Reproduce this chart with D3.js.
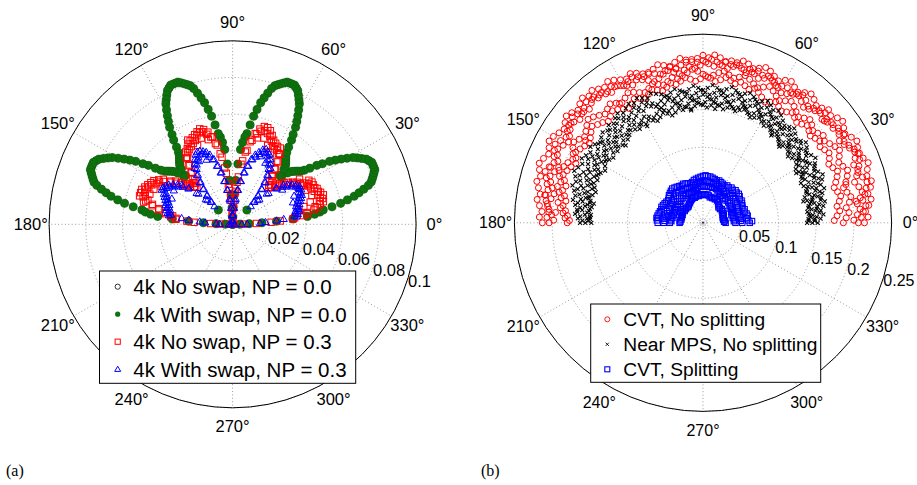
<!DOCTYPE html>
<html>
<head>
<meta charset="utf-8">
<script src="https://cdn.jsdelivr.net/npm/d3@7"></script>
<style>
body { margin: 0; background: #fff; }
svg { display: block; }
</style>
</head>
<body>
<svg id="chart" width="917" height="485"></svg>
<script>
// ---- sampling grids (degrees) ----
var deg1 = [0,1,2,3,4,5,6,7,8,9,10,11,12,13,14,15,16,17,18,19,20,21,22,23,24,25,26,27,28,29,
  30,31,32,33,34,35,36,37,38,39,40,41,42,43,44,45,46,47,48,49,50,51,52,53,54,55,56,57,58,59,
  60,61,62,63,64,65,66,67,68,69,70,71,72,73,74,75,76,77,78,79,80,81,82,83,84,85,86,87,88,89,
  90,91,92,93,94,95,96,97,98,99,100,101,102,103,104,105,106,107,108,109,110,111,112,113,114,115,116,117,118,119,
  120,121,122,123,124,125,126,127,128,129,130,131,132,133,134,135,136,137,138,139,140,141,142,143,144,145,146,147,148,149,
  150,151,152,153,154,155,156,157,158,159,160,161,162,163,164,165,166,167,168,169,170,171,172,173,174,175,176,177,178,179,180];
var deg2 = [0,2,4,6,8,10,12,14,16,18,20,22,24,26,28,30,32,34,36,38,40,42,44,46,48,50,52,54,56,58,
  60,62,64,66,68,70,72,74,76,78,80,82,84,86,88,90,92,94,96,98,100,102,104,106,108,110,112,114,116,118,
  120,122,124,126,128,130,132,134,136,138,140,142,144,146,148,150,152,154,156,158,160,162,164,166,168,170,172,174,176,178,180];
var deg2h = [1,3,5,7,9,11,13,15,17,19,21,23,25,27,29,31,33,35,37,39,41,43,45,47,49,51,53,55,57,59,
  61,63,65,67,69,71,73,75,77,79,81,83,85,87,89,91,93,95,97,99,101,103,105,107,109,111,113,115,117,119,
  121,123,125,127,129,131,133,135,137,139,141,143,145,147,149,151,153,155,157,159,161,163,165,167,169,171,173,175,177,179];
var deg3 = [0,3,6,9,12,15,18,21,24,27,30,33,36,39,42,45,48,51,54,57,60,63,66,69,72,75,78,81,84,87,
  90,93,96,99,102,105,108,111,114,117,120,123,126,129,132,135,138,141,144,147,150,153,156,159,162,165,168,171,174,177,180];

var angleTicks = [0,30,60,90,120,150,180,210,240,270,300,330];

// ---- panel (a) ----
var aRTicks = [0.02,0.04,0.06,0.08,0.1];
var aRLabels = ["0.02","0.04","0.06","0.08","0.1"];

// 4k With swap, NP = 0.0 (r on deg1)
var withSwap00 = [
  0,.004,.009,.016,.024,.033,.041,.045,.048,.050,
  .055,.060,.064,.068,.071,.074,.077,.079,.080,.081,
  .082,.083,.083,.083,.083,.082,.081,.079,.077,.075,
  .072,.069,.066,.063,.059,.056,.052,.049,.047,.046,
  .045,.044,.043,.041,.037,.011,
  .037,.041,.043,.044,.045,.046,.047,.049,.052,.056,
  .059,.063,.066,.069,.072,.075,.077,.079,.081,.082,
  .083,.083,.083,.083,.082,.081,.080,.079,.077,.074,
  .071,.068,.064,.060,.055,.050,.048,.045,.041,.033,
  .024,.016,.009,.004,0,
  .004,.009,.016,.024,.033,.041,.045,.048,.050,.055,
  .060,.064,.068,.071,.074,.077,.079,.080,.081,.082,
  .083,.083,.083,.083,.082,.081,.079,.077,.075,.072,
  .069,.066,.063,.059,.056,.052,.049,.047,.046,.045,
  .044,.043,.041,.037,.011,
  .037,.041,.043,.044,.045,.046,.047,.049,.052,.056,
  .059,.063,.066,.069,.072,.075,.077,.079,.081,.082,
  .083,.083,.083,.083,.082,.081,.080,.079,.077,.074,
  .071,.068,.064,.060,.055,.050,.048,.045,.041,.033,
  .024,.016,.009,.004,0];
// 4k No swap, NP = 0.0 coincides with the filled series
var noSwap00 = withSwap00;

// 4k No swap, NP = 0.3 (r on deg1)
var noSwap03 = [
  .001,.006,.013,.021,.026,.033,.034,.039,.041,.041,
  .045,.047,.046,.049,.051,.049,.051,.050,.052,.049,
  .051,.050,.048,.050,.049,.047,.049,.046,.047,.044,
  .045,.043,.041,.042,.040,.040,.037,.038,.035,.036,
  .033,.034,.031,.032,.029,.028,.030,.029,.032,.031,
  .034,.034,.038,.038,.042,.042,.046,.046,.049,.047,
  .049,.047,.050,.048,.051,.050,.053,.052,.055,.053,
  .056,.054,.056,.053,.054,.051,.051,.047,.046,.041,
  .040,.035,.033,.026,.023,.018,.017,.011,.009,.003,
  .001,.005,.007,.013,.015,.020,.022,.028,.031,.037,
  .039,.044,.045,.049,.049,.052,.051,.054,.053,.055,
  .053,.054,.052,.053,.050,.052,.049,.051,.048,.050,
  .047,.048,.046,.047,.044,.044,.040,.040,.036,.036,
  .032,.033,.030,.031,.028,.029,.029,.032,.031,.034,
  .033,.036,.035,.039,.038,.041,.041,.045,.044,.047,
  .046,.049,.047,.050,.049,.051,.050,.052,.051,.053,
  .051,.053,.050,.051,.048,.049,.045,.045,.041,.041,
  .037,.037,.033,.034,.031,.031,.025,.021,.012,.007,
  .001];
var noSwap03Extra = [[12,.037],[14,.040],[16,.044],[20,.046],[25,.044],[28,.049],[30,.048],[34,.044],
  [62,.044],[66,.047],[70,.050],[74,.049],[106,.048],[110,.050],[114,.047],[118,.052],
  [152,.044],[156,.047],[160,.048],[163,.053],[166,.050]];

// 4k With swap, NP = 0.3 (r on deg1)
var withSwap03 = [
  .001,.005,.008,.015,.018,.024,.028,.035,.034,.036,
  .035,.037,.035,.037,.036,.037,.036,.038,.037,.039,
  .038,.040,.039,.041,.040,.041,.040,.042,.041,.041,
  .042,.040,.041,.038,.039,.036,.037,.034,.035,.031,
  .031,.026,.025,.020,.019,.014,.017,.017,.021,.021,
  .025,.025,.029,.029,.033,.033,.037,.036,.039,.038,
  .041,.040,.043,.042,.044,.043,.045,.043,.044,.041,
  .042,.039,.040,.037,.037,.033,.033,.029,.029,.024,
  .024,.019,.019,.014,.013,.009,.009,.005,.005,.002,
  .001,.002,.005,.005,.009,.009,.013,.014,.019,.019,
  .024,.024,.029,.029,.033,.033,.037,.037,.040,.039,
  .042,.041,.043,.042,.044,.042,.044,.041,.043,.040,
  .041,.038,.039,.036,.037,.033,.033,.029,.029,.025,
  .025,.021,.021,.017,.017,.014,.019,.020,.025,.026,
  .031,.031,.035,.034,.037,.036,.039,.038,.041,.040,
  .042,.041,.043,.042,.043,.040,.041,.039,.040,.038,
  .039,.037,.038,.036,.038,.036,.037,.035,.037,.035,
  .036,.034,.035,.028,.024,.018,.015,.009,.007,.002,
  .001];
var withSwap03Extra = [[20,.035],[25,.037],[35,.033],[62,.038],[68,.040],[112,.038],[118,.039],[150,.037],[157,.036]];

// ---- panel (b) ----
var bRTicks = [0.05,0.1,0.15,0.2,0.25];
var bRLabels = ["0.05","0.1","0.15","0.2","0.25"];

// CVT, No splitting : five wandering strands
var cvtNoA = [.214,.219,.216,.221,.225,.222,.227,.230,.226,.229,
  .233,.229,.225,.228,.231,.227,.222,.225,.229,.226,
  .221,.224,.219,.216,.220,.223,.219,.214,.217,.221,
  .218,.213,.216,.220,.222,.218,.215,.219,.221,.217,
  .213,.216,.220,.223,.219,.222,.218,.214,.217,.220,
  .216,.212,.215,.218,.214,.210,.213,.217,.220,.216,
  .219,.223,.226,.222,.225,.229,.226,.230,.227,.223,
  .227,.230,.226,.222,.225,.229,.231,.227,.224,.228,
  .231,.228,.224,.227,.223,.219,.222,.218,.214,.217,
  .213]; // deg2
var cvtNoB = [.200,.205,.209,.206,.211,.215,.212,.208,.213,.217,
  .214,.219,.222,.218,.214,.211,.215,.219,.216,.212,
  .209,.213,.210,.206,.203,.207,.211,.208,.204,.201,
  .205,.209,.212,.208,.205,.209,.213,.210,.214,.211,
  .207,.210,.214,.217,.213,.209,.205,.208,.204,.200,
  .203,.207,.204,.200,.198,.202,.206,.209,.205,.208,
  .212,.215,.211,.214,.218,.221,.217,.213,.216,.220,
  .223,.219,.215,.211,.208,.212,.216,.213,.209,.205,
  .208,.212,.209,.205,.201,.204,.208,.205,.201,.198]; // deg2h
var cvtNoC = [.186,.190,.194,.191,.196,.199,.195,.192,.197,.201,
  .204,.200,.197,.201,.205,.202,.198,.194,.197,.193,
  .190,.194,.197,.193,.189,.192,.196,.199,.195,.191,
  .194,.198,.201,.197,.193,.196,.200,.203,.199,.196,
  .199,.203,.200,.196,.193,.197,.201,.204,.200,.197,
  .194,.197,.193,.190,.193,.196,.192,.189,.192,.196,
  .199,.195,.192,.196,.200,.197,.194,.198,.202,.205,
  .201,.197,.194,.198,.202,.199,.195,.192,.196,.199,
  .203,.200,.196,.199,.195,.191,.194,.190,.186,.183,
  .180]; // deg2
var cvtNoD = [.174,.178,.182,.179,.183,.186,.183,.180,.184,.188,
  .191,.187,.184,.188,.191,.188,.185,.189,.186,.183,
  .186,.189,.185,.182,.185,.188,.184,.181,.184,.187,
  .183,.180,.184,.188,.191,.187,.190,.193,.189,.192,
  .195,.191,.188,.192,.195,.191,.188,.191,.194,.190,
  .187,.190,.186,.183,.186,.189,.185,.182,.185,.188,
  .184,.181,.184,.188,.191,.187,.184,.188,.191,.195,
  .191,.187,.184,.187,.190,.193,.189,.186,.190,.193,
  .196,.192,.188,.191,.187,.184,.187,.183,.180,.177]; // deg2h
var cvtNoE = [.206,.210,.213,.217,.214,.218,.221,.224,.220,.216,
  .220,.224,.227,.223,.219,.216,.220,.217,.213,.216,
  .214,.218,.214,.211,.208,.212,.215,.211,.208,.211,
  .209,.206,.210,.213,.211,.214,.210,.207,.211,.214,
  .218,.215,.211,.208,.211,.215,.213,.217,.214,.211,
  .208,.211,.208,.205,.208,.212,.209,.212,.215,.212,
  .210,.214,.218,.215,.219,.216,.220,.223,.219,.216,
  .213,.217,.220,.217,.214,.218,.222,.219,.216,.213,
  .217,.220,.216,.213,.210,.213,.210,.207,.205,.207,
  .204]; // deg2
var cvtNoExtra = [[176,.196],[170,.212],[160,.215],[15,.196],[8,.205],[40,.210],[100,.207],[125,.193],[145,.19]];

// Near MPS, No splitting : five wandering strands
var mpsA = [.152,.156,.160,.157,.161,.164,.160,.163,.167,.164,
  .168,.171,.167,.164,.168,.172,.169,.166,.170,.173,
  .169,.166,.170,.174,.171,.168,.172,.176,.179,.176,
  .180,.183,.179,.176,.180,.183,.180,.177,.181,.184,
  .180,.177,.180,.183,.179,.176,.179,.182,.178,.175,
  .178,.181,.178,.175,.179,.182,.185,.181,.184,.187,
  .183,.186,.183,.180,.184,.181,.177,.180,.176,.179,
  .176,.173,.177,.180,.176,.179,.182,.178,.181,.184,
  .180,.177,.180,.176,.173,.175,.171,.168,.170,.166,
  .163]; // deg2
var mpsB = [.148,.151,.155,.152,.156,.159,.156,.160,.157,.161,
  .164,.160,.163,.166,.162,.159,.163,.166,.163,.167,
  .164,.161,.165,.168,.165,.162,.166,.170,.167,.172,
  .175,.171,.174,.177,.174,.171,.175,.178,.174,.171,
  .174,.177,.173,.170,.173,.176,.172,.169,.173,.176,
  .172,.169,.172,.175,.171,.168,.172,.176,.179,.175,
  .178,.174,.171,.175,.178,.174,.171,.174,.170,.167,
  .171,.174,.170,.167,.171,.174,.171,.168,.172,.175,
  .172,.169,.172,.168,.165,.168,.164,.167,.163,.160]; // deg2h
var mpsC = [.145,.148,.146,.150,.153,.150,.148,.152,.155,.152,
  .156,.159,.155,.152,.156,.159,.156,.153,.157,.160,
  .157,.154,.158,.161,.158,.162,.165,.162,.166,.169,
  .166,.163,.167,.170,.167,.164,.168,.171,.167,.164,
  .168,.171,.167,.164,.167,.170,.166,.163,.166,.169,
  .165,.162,.166,.169,.165,.162,.166,.169,.172,.168,
  .171,.167,.164,.168,.171,.167,.164,.167,.163,.160,
  .163,.166,.162,.159,.163,.166,.163,.160,.164,.167,
  .164,.161,.165,.162,.159,.162,.158,.161,.157,.154,
  .156]; // deg2
var mpsD = [.140,.143,.141,.145,.142,.146,.149,.146,.143,.147,
  .150,.147,.144,.148,.151,.148,.152,.155,.151,.148,
  .152,.155,.151,.148,.152,.156,.153,.157,.160,.157,
  .161,.164,.160,.157,.161,.164,.160,.157,.161,.163,
  .160,.157,.161,.164,.160,.157,.160,.163,.159,.156,
  .159,.162,.158,.155,.158,.161,.157,.154,.158,.161,
  .158,.155,.159,.162,.158,.155,.158,.161,.157,.154,
  .157,.160,.156,.153,.157,.160,.156,.153,.157,.160,
  .157,.154,.158,.155,.152,.155,.151,.154,.150,.152]; // deg2h
var mpsE = [.138,.140,.142,.139,.141,.144,.141,.139,.143,.145,
  .142,.140,.144,.147,.144,.142,.146,.149,.146,.143,
  .147,.150,.147,.145,.149,.152,.149,.152,.155,.152,
  .155,.158,.155,.153,.157,.160,.157,.154,.158,.156,
  .153,.157,.160,.156,.153,.156,.159,.155,.152,.155,
  .152,.155,.151,.148,.152,.155,.151,.148,.151,.154,
  .151,.154,.150,.153,.156,.152,.149,.152,.148,.151,
  .148,.151,.147,.150,.153,.150,.147,.151,.154,.151,
  .154,.151,.148,.151,.155,.152,.149,.152,.149,.150,
  .148]; // deg2
var mpsExtra = [[45,.143],[52,.147],[120,.148],[135,.145],[28,.140],[12,.136],[170,.147],[96,.150],[84,.152]];

// CVT, Splitting : four strands on deg3
var cvtSplitA = [.062,.060,.058,.060,.059,.057,.058,.056,.057,.058,
  .059,.058,.060,.061,.060,.061,.059,.060,.058,.059,
  .057,.058,.059,.060,.059,.060,.061,.062,.062,.063,
  .062,.061,.060,.059,.058,.056,.055,.056,.057,.058,
  .057,.058,.059,.060,.061,.060,.059,.058,.056,.055,
  .056,.057,.058,.059,.058,.059,.060,.061,.060,.061,
  .060];
var cvtSplitB = [.052,.050,.051,.049,.050,.048,.050,.049,.051,.050,
  .052,.051,.053,.052,.053,.051,.052,.050,.051,.050,
  .052,.051,.053,.052,.054,.053,.055,.054,.056,.055,
  .056,.055,.054,.052,.051,.049,.050,.049,.051,.050,
  .052,.051,.053,.052,.053,.051,.052,.050,.051,.049,
  .050,.048,.049,.048,.050,.049,.051,.050,.052,.051,
  .052];
var cvtSplitC = [.043,.041,.042,.040,.041,.039,.041,.040,.042,.041,
  .043,.042,.044,.043,.044,.042,.043,.042,.044,.043,
  .045,.046,.047,.048,.049,.048,.049,.048,.049,.048,
  .049,.048,.049,.047,.046,.045,.044,.043,.044,.043,
  .044,.043,.044,.042,.043,.041,.042,.040,.041,.040,
  .041,.040,.041,.040,.041,.040,.042,.041,.043,.042,
  .044];
var cvtSplitD = [.030,.028,.029,.027,.028,.027,.029,.028,.030,.029,
  .031,.030,.031,.029,.030,.029,.031,.032,.034,.035,
  .036,.035,.036,.035,.036,.035,.037,.038,.037,.038,
  .037,.038,.037,.036,.037,.036,.035,.036,.035,.034,
  .033,.032,.031,.030,.029,.029,.030,.029,.030,.029,
  .031,.030,.031,.029,.030,.029,.030,.029,.031,.030,
  .031];
var cvtSplitExtra = [[2,.065],[174,.062],[170,.047]];

var legendA = ["4k No swap, NP = 0.0","4k With swap, NP = 0.0","4k No swap, NP = 0.3","4k With swap, NP = 0.3"];
var legendB = ["CVT, No splitting","Near MPS, No splitting","CVT, Splitting"];

// ---------------------------------------------------------------
var svg = d3.select("#chart");
var FONT = '"Liberation Sans", Arial, Helvetica, sans-serif';
var RAD = Math.PI / 180;

function pairs(th, rs) {
    return rs.map(function (v, i) { return { t: th[i], r: v }; });
}
function pairsXY(list) {
    return list.map(function (d) { return { t: d[0], r: d[1] }; });
}

function panel(p) {
    var g = svg.append("g");
    var r = d3.scaleLinear().domain([0, p.rmax]).range([0, p.R]);
    var pos = function (t, v) {
        return [p.cx + r(v) * Math.cos(t * RAD), p.cy - r(v) * Math.sin(t * RAD)];
    };

    g.append("circle").attr("cx", p.cx).attr("cy", p.cy).attr("r", p.R).attr("fill", "#fff");

    // dotted rings
    g.selectAll(".ring")
        .data(p.rticks)
        .enter().append("circle")
        .attr("class", "ring")
        .attr("cx", p.cx).attr("cy", p.cy)
        .attr("r", function (d) { return r(d); })
        .attr("fill", "none")
        .attr("stroke", "#9a9a9a")
        .attr("stroke-dasharray", "1,2.4");

    // dotted spokes
    g.selectAll(".spoke")
        .data(angleTicks.slice(0, 6))
        .enter().append("line")
        .attr("class", "spoke")
        .attr("x1", function (d) { return pos(d, p.rmax)[0]; })
        .attr("y1", function (d) { return pos(d, p.rmax)[1]; })
        .attr("x2", function (d) { return pos(d + 180, p.rmax)[0]; })
        .attr("y2", function (d) { return pos(d + 180, p.rmax)[1]; })
        .attr("stroke", "#9a9a9a")
        .attr("stroke-dasharray", "1,2.4");

    // outer circle
    g.append("circle")
        .attr("cx", p.cx).attr("cy", p.cy).attr("r", p.R)
        .attr("fill", "none").attr("stroke", "#000").attr("stroke-width", 1);

    // angle labels
    g.selectAll(".alab")
        .data(angleTicks)
        .enter().append("text")
        .attr("x", function (d) { return pos(d, p.rmax * 1.1)[0]; })
        .attr("y", function (d) { return pos(d, p.rmax * 1.1)[1]; })
        .attr("text-anchor", "middle")
        .attr("dominant-baseline", "central")
        .style("font-family", FONT)
        .style("font-size", p.fs + "px")
        .text(function (d) { return d + "\u00b0"; });

    // radial labels
    g.selectAll(".rlab")
        .data(p.rticks)
        .enter().append("text")
        .attr("x", function (d) { return p.cx + r(d) * Math.cos(17 * RAD); })
        .attr("y", function (d) { return p.cy + r(d) * Math.sin(17 * RAD) + 3; })
        .attr("dominant-baseline", "central")
        .style("font-family", FONT)
        .style("font-size", p.fs + "px")
        .text(function (d, i) { return p.rlabels[i]; });

    return { g: g, pos: pos };
}

function circles(P, data, rad, fill, stroke, sw) {
    P.g.append("g").selectAll("circle")
        .data(data)
        .enter().append("circle")
        .attr("cx", function (d) { return P.pos(d.t, d.r)[0]; })
        .attr("cy", function (d) { return P.pos(d.t, d.r)[1]; })
        .attr("r", rad)
        .attr("fill", fill)
        .attr("stroke", stroke)
        .attr("stroke-width", sw);
}
function squares(P, data, size, stroke, sw) {
    P.g.append("g").selectAll("rect")
        .data(data)
        .enter().append("rect")
        .attr("x", function (d) { return P.pos(d.t, d.r)[0] - size / 2; })
        .attr("y", function (d) { return P.pos(d.t, d.r)[1] - size / 2; })
        .attr("width", size).attr("height", size)
        .attr("fill", "none")
        .attr("stroke", stroke)
        .attr("stroke-width", sw);
}
function triangles(P, data, s, stroke) {
    P.g.append("g").selectAll("path")
        .data(data)
        .enter().append("path")
        .attr("transform", function (d) { var q = P.pos(d.t, d.r); return "translate(" + q[0] + "," + q[1] + ")"; })
        .attr("d", "M0," + (-s) + "L" + s + "," + (s * 0.72) + "L" + (-s) + "," + (s * 0.72) + "Z")
        .attr("fill", "none")
        .attr("stroke", stroke)
        .attr("stroke-width", 1);
}
function crosses(P, data, s, stroke) {
    P.g.append("g").selectAll("path")
        .data(data)
        .enter().append("path")
        .attr("transform", function (d) { var q = P.pos(d.t, d.r); return "translate(" + q[0] + "," + q[1] + ")"; })
        .attr("d", "M" + (-s) + "," + (-s) + "L" + s + "," + s + "M" + (-s) + "," + s + "L" + s + "," + (-s))
        .attr("stroke", stroke)
        .attr("stroke-width", 1.05);
}

// ----- panel (a) -----
var A = panel({ cx: 232.6, cy: 224.3, R: 183.5, rmax: 0.1, rticks: aRTicks, rlabels: aRLabels, fs: 16.5 });
circles(A, pairs(deg1, noSwap00), 3.6, "none", "#000", 0.8);
circles(A, pairs(deg1, withSwap00), 4.1, "#0f720f", "#0b5e0b", 0.5);
squares(A, pairs(deg1, noSwap03).concat(pairsXY(noSwap03Extra)), 6.4, "#ff0000", 1);
triangles(A, pairs(deg1, withSwap03).concat(pairsXY(withSwap03Extra)), 3.6, "#0000ff");

// ----- panel (b) -----
var B = panel({ cx: 703, cy: 222.8, R: 188.6, rmax: 0.25, rticks: bRTicks, rlabels: bRLabels, fs: 16 });
B.g.append("circle").attr("cx", 703).attr("cy", 222.8).attr("r", 3.5)
    .attr("fill", "none").attr("stroke", "#9a9a9a").attr("stroke-dasharray", "1,1.5");
B.g.append("circle").attr("cx", 703).attr("cy", 222.8).attr("r", 0.9).attr("fill", "#000");

circles(B, pairs(deg2, cvtNoA).concat(pairs(deg2h, cvtNoB), pairs(deg2, cvtNoE), pairs(deg2, cvtNoC), pairs(deg2h, cvtNoD), pairsXY(cvtNoExtra)),
    3.0, "none", "#ff0000", 1.0);
crosses(B, pairs(deg2, mpsA).concat(pairs(deg2h, mpsB), pairs(deg2, mpsC), pairs(deg2h, mpsD), pairs(deg2, mpsE), pairsXY(mpsExtra)),
    2.0, "#000");
squares(B, pairs(deg3, cvtSplitA).concat(pairs(deg3, cvtSplitB), pairs(deg3, cvtSplitC), pairs(deg3, cvtSplitD), pairsXY(cvtSplitExtra)),
    5.4, "#0000ff", 1.1);

// ----- legends -----
function legend(box, labels, fs, rowY, markerX, textX, drawers) {
    var g = svg.append("g");
    g.append("rect")
        .attr("x", box[0]).attr("y", box[1])
        .attr("width", box[2] - box[0]).attr("height", box[3] - box[1])
        .attr("fill", "#fff").attr("stroke", "#000").attr("stroke-width", 1);
    labels.forEach(function (lab, i) {
        drawers[i](g, markerX, rowY[i]);
        g.append("text")
            .attr("x", textX).attr("y", rowY[i])
            .attr("dominant-baseline", "central")
            .style("font-family", FONT)
            .style("font-size", fs + "px")
            .text(lab);
    });
}

legend([99.5, 271, 355.7, 383.3], legendA, 20.5, [286.7, 314.2, 341.7, 369.2], 117.7, 133.3, [
    function (g, x, y) { g.append("circle").attr("cx", x).attr("cy", y).attr("r", 2.6).attr("fill", "none").attr("stroke", "#000").attr("stroke-width", 0.8); },
    function (g, x, y) { g.append("circle").attr("cx", x).attr("cy", y).attr("r", 2.6).attr("fill", "#0f720f"); },
    function (g, x, y) { g.append("rect").attr("x", x - 2.6).attr("y", y - 2.6).attr("width", 5.2).attr("height", 5.2).attr("fill", "none").attr("stroke", "#ff0000"); },
    function (g, x, y) { g.append("path").attr("d", "M" + x + "," + (y - 3) + "L" + (x + 3) + "," + (y + 2.2) + "L" + (x - 3) + "," + (y + 2.2) + "Z").attr("fill", "none").attr("stroke", "#0000ff"); }
]);

legend([590.7, 304, 820.7, 382.3], legendB, 19.2, [319.3, 344.3, 369.3], 607.3, 623.3, [
    function (g, x, y) { g.append("circle").attr("cx", x).attr("cy", y).attr("r", 2.5).attr("fill", "none").attr("stroke", "#ff0000").attr("stroke-width", 0.9); },
    function (g, x, y) { g.append("path").attr("d", "M" + (x - 1.6) + "," + (y - 1.6) + "L" + (x + 1.6) + "," + (y + 1.6) + "M" + (x - 1.6) + "," + (y + 1.6) + "L" + (x + 1.6) + "," + (y - 1.6)).attr("stroke", "#000").attr("stroke-width", 0.9); },
    function (g, x, y) { g.append("rect").attr("x", x - 2.5).attr("y", y - 2.5).attr("width", 5).attr("height", 5).attr("fill", "none").attr("stroke", "#0000ff").attr("stroke-width", 1.1); }
]);

// ----- panel captions -----
svg.append("text").attr("x", 6).attr("y", 476)
    .style("font-family", '"Liberation Serif", "Times New Roman", serif').style("font-size", "16px").text("(a)");
svg.append("text").attr("x", 481).attr("y", 476)
    .style("font-family", '"Liberation Serif", "Times New Roman", serif').style("font-size", "16px").text("(b)");
</script>
</body>
</html>
